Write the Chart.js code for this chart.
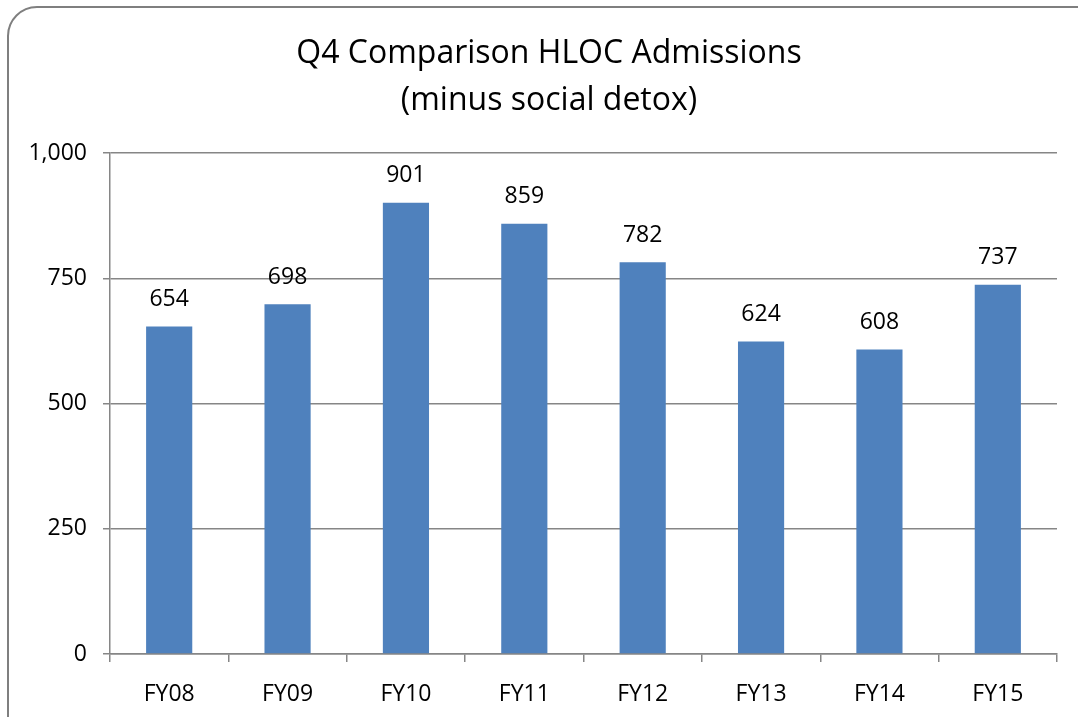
<!DOCTYPE html>
<html lang="en">
<head>
<meta charset="UTF-8">
<title>Q4 Comparison HLOC Admissions</title>
<style>
  html, body { margin: 0; padding: 0; overflow: hidden; background: #fff; }
  #frame {
    position: absolute; left: 7px; top: 6px; width: 1110px; height: 750px;
    border: 2px solid #7f7f7f; border-radius: 30px; box-sizing: border-box;
  }
  #wrap { position: absolute; left: 0; top: 0; width: 1078px; height: 717px; }
</style>
</head>
<body>
<div id="frame"></div>
<div id="wrap"><canvas id="myChart"></canvas></div>

<script src="https://cdn.jsdelivr.net/npm/chart.js"></script>
<script>
  const labels = ['FY08', 'FY09', 'FY10', 'FY11', 'FY12', 'FY13', 'FY14', 'FY15'];
  const admissions = [654, 698, 901, 859, 782, 624, 608, 737];
  const yTicks = [0, 250, 500, 750, 1000];

  const FONT = "'Open Sans', sans-serif";

  // numbers above each bar
  const barValues = {
    id: 'barValues',
    afterDatasetsDraw(chart) {
      const c = chart.ctx;
      const meta = chart.getDatasetMeta(0);
      c.save();
      c.font = '23px ' + FONT;
      c.fillStyle = '#000';
      c.textAlign = 'center';
      c.textBaseline = 'middle';
      meta.data.forEach((bar, i) => {
        c.fillText(admissions[i], bar.x, bar.y - 27);
      });
      c.restore();
    }
  };

  const ctx = document.getElementById('myChart');

  new Chart(ctx, {
    type: 'bar',
    data: {
      labels: labels,
      datasets: [{
        label: 'Admissions',
        data: admissions,
        backgroundColor: '#4F81BD',
        borderWidth: 0,
        categoryPercentage: 1,
        barPercentage: 0.39
      }]
    },
    options: {
      responsive: true,
      maintainAspectRatio: false,
      animation: false,
      layout: { padding: { left: 20, right: 0, top: 8, bottom: 0 } },
      plugins: {
        legend: { display: false },
        tooltip: { enabled: false },
        title: {
          display: true,
          text: ['Q4 Comparison HLOC Admissions', '(minus social detox)'],
          color: '#000',
          font: { family: FONT, size: 32, weight: 'normal', lineHeight: 1.47 },
          padding: { top: 22, bottom: 29 }
        }
      },
      scales: {
        x: {
          offset: true,
          border: { color: '#868686', width: 1.5 },
          grid: { offset: true, drawOnChartArea: false, drawTicks: true, tickLength: 8, color: '#868686', lineWidth: 1.5 },
          ticks: { color: '#000', font: { family: FONT, size: 23 }, padding: 19 },
          afterFit(scale) { scale.height = 63; }
        },
        y: {
          min: 0,
          max: 1000,
          afterBuildTicks(scale) { scale.ticks = yTicks.map(v => ({ value: v })); },
          border: { color: '#868686', width: 1.5 },
          grid: { color: '#868686', lineWidth: 1.5, tickLength: 7 },
          ticks: {
            color: '#000',
            font: { family: FONT, size: 23 },
            padding: 16,
            callback: v => v.toLocaleString('en-US')
          },
          afterFit(scale) { scale.width = 90; }
        },
        // empty spacer on the right so the plot ends where the original does
        spacer: {
          position: 'right',
          display: true,
          grid: { display: false },
          border: { display: false },
          ticks: { display: false },
          afterFit(scale) { scale.width = 21; }
        }
      }
    },
    plugins: [barValues]
  });
</script>
</body>
</html>
